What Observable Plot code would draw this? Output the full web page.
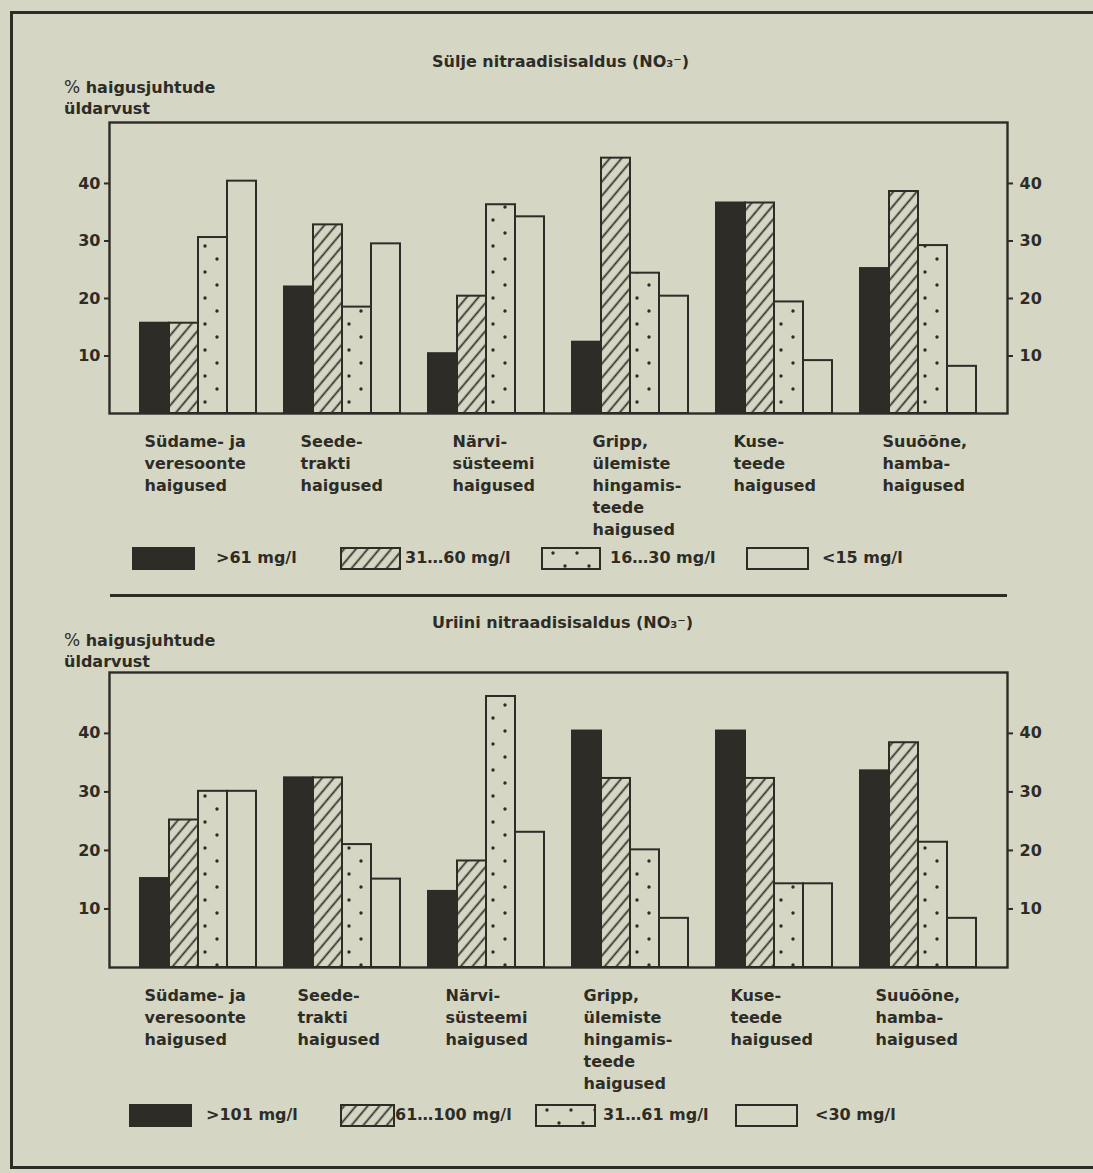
<!DOCTYPE html>
<html>
<head>
<meta charset="utf-8">
<script src="https://cdn.jsdelivr.net/npm/d3@7"></script>
<script src="https://cdn.jsdelivr.net/npm/@observablehq/plot@0.6"></script>
<style>
  body { margin: 0; background: #d5d7c4; }
  #page { position: relative; width: 1093px; height: 1173px; overflow: hidden; background: #d5d7c4;
          font-family: "DejaVu Sans", sans-serif; font-weight: bold; color: #2e2c27; }
  .abs { position: absolute; white-space: nowrap; }
  .title { font-size: 16px; }
  .ylab { font-size: 16px; line-height: 21px; }
  .pct { font-weight: normal; font-size: 17px; }
  .rule { position: absolute; background: #2e2c27; }
  .leg { font-size: 16px; }
  .sw { position: absolute; }
</style>
</head>
<body>
<svg width="0" height="0" style="position:absolute">
  <defs>
    <pattern id="hatch" patternUnits="userSpaceOnUse" width="9" height="9" patternTransform="rotate(40)">
      <rect width="9" height="9" fill="#d5d7c4"></rect>
      <line x1="4.5" y1="-1" x2="4.5" y2="10" stroke="#2e2c27" stroke-width="1.7"></line>
    </pattern>
    <pattern id="dots" patternUnits="userSpaceOnUse" x="58" y="0" width="24" height="26">
      <rect width="24" height="26" fill="#d5d7c4"></rect>
      <circle cx="7" cy="6" r="1.7" fill="#2e2c27"></circle>
      <circle cx="19" cy="19" r="1.7" fill="#2e2c27"></circle>
    </pattern>
  </defs>
</svg>
<div id="page">
  <div class="rule" style="left:10px;top:11px;width:1083px;height:3px"></div>
  <div class="rule" style="left:10px;top:11px;width:3px;height:1158px"></div>
  <div class="rule" style="left:10px;top:1166px;width:1083px;height:3px"></div>
  <div class="rule" style="left:110px;top:594px;width:897px;height:3px"></div>

  <div class="abs title" style="left:432px;top:52px">Sülje nitraadisisaldus (NO₃⁻)</div>
  <div class="abs ylab" style="left:64px;top:77px"><span class="pct">%</span> haigusjuhtude<br>üldarvust</div>

  <div class="abs title" style="left:432px;top:613px">Uriini nitraadisisaldus (NO₃⁻)</div>
  <div class="abs ylab" style="left:64px;top:630px"><span class="pct">%</span> haigusjuhtude<br>üldarvust</div>

  <div id="chart1" class="abs" style="left:0;top:110px"></div>
  <div id="chart2" class="abs" style="left:0;top:660px"></div>
  <div id="legend1"></div>
  <div id="legend2"></div>
</div>
<script>
// ---- data ----
const categories = [
  "Südame- ja\nveresoonte\nhaigused",
  "Seede-\ntrakti\nhaigused",
  "Närvi-\nsüsteemi\nhaigused",
  "Gripp,\nülemiste\nhingamis-\nteede\nhaigused",
  "Kuse-\nteede\nhaigused",
  "Suuõõne,\nhamba-\nhaigused"
];
const seriesKeys = ["k1", "k2", "k3", "k4"];

// Sülje nitraadisisaldus (saliva)
const saliva1 = [15.7, 22.0, 10.4, 12.4, 36.6, 25.2];
const saliva2 = [15.7, 32.8, 20.4, 44.4, 36.6, 38.6];
const saliva3 = [30.6, 18.5, 36.3, 24.4, 19.4, 29.2];
const saliva4 = [40.4, 29.5, 34.2, 20.4, 9.2, 8.2];
const salivaLegend = [">61 mg/l", "31…60 mg/l", "16…30 mg/l", "<15 mg/l"];

// Uriini nitraadisisaldus (urine)
const urine1 = [15.2, 32.4, 13.0, 40.4, 40.4, 33.6];
const urine2 = [25.2, 32.4, 18.2, 32.3, 32.3, 38.4];
const urine3 = [30.1, 21.0, 46.3, 20.1, 14.3, 21.4];
const urine4 = [30.1, 15.1, 23.1, 8.4, 14.3, 8.4];
const urineLegend = [">101 mg/l", "61…100 mg/l", "31…61 mg/l", "<30 mg/l"];

const yTicks = [10, 20, 30, 40];

// ---- style / layout ----
const ink = "#2e2c27";
const paper = "#d5d7c4";
const fills = [ink, "url(#hatch)", "url(#dots)", paper];
const labelDx1 = [5, 17, 25, 21, 18, 23];
const labelDx2 = [5, 14, 18, 12, 15, 16];

function makePanel(series, yMax, innerH, labelDx) {
  const rows = [];
  categories.forEach((c, i) => seriesKeys.forEach((s, j) => rows.push({cat: c, key: s, value: series[j][i]})));
  return Plot.plot({
    width: 1093,
    height: 12 + innerH + 130,
    marginLeft: 138,
    marginRight: 117,
    marginTop: 12,
    marginBottom: 130,
    style: {fontFamily: "'DejaVu Sans', sans-serif", fontSize: "16px", fontWeight: "bold", color: ink, background: "transparent", overflow: "visible"},
    fx: {domain: categories, paddingInner: 0.19, paddingOuter: 0, axis: null, label: null},
    x: {domain: seriesKeys, padding: 0, axis: null},
    y: {domain: [0, yMax], axis: null},
    color: {type: "ordinal", domain: seriesKeys, range: fills},
    marks: [
      Plot.barY(rows, {fx: "cat", x: "key", y: "value", fill: "key", stroke: ink, strokeWidth: 2}),
      Plot.frame({facet: "super", stroke: ink, strokeWidth: 2.4, insetLeft: -30, insetRight: -31}),
      Plot.axisY({ticks: yTicks, anchor: "left", dx: -30, tickSize: 5, tickPadding: 4, strokeWidth: 2, label: null, fontSize: 16}),
      Plot.axisY({ticks: yTicks, anchor: "right", dx: 31, tickSize: 5, tickPadding: 7, strokeWidth: 2, label: null, fontSize: 16}),
      ...categories.map((c, i) => Plot.text([c], {
        fx: d => d, text: d => d, frameAnchor: "bottom-left", textAnchor: "start", lineAnchor: "top",
        dx: labelDx[i], dy: 18, lineHeight: 1.375, fontSize: 16, fontWeight: "bold", fill: ink
      }))
    ]
  });
}

const p1 = makePanel([saliva1, saliva2, saliva3, saliva4], 50.6, 291, labelDx1);
const p2 = makePanel([urine1, urine2, urine3, urine4], 50.4, 295, labelDx2);
document.getElementById("chart1").appendChild(p1);
document.getElementById("chart2").appendChild(p2);

// align dot pattern with the dotted bars
try {
  const xs = p1.scale("x");
  document.getElementById("dots").setAttribute("x", xs.apply("k3"));
} catch (e) {}

function makeLegend(id, labels, top, swX, swW, txX) {
  const host = document.getElementById(id);
  labels.forEach((lab, i) => {
    const sw = document.createElementNS("http://www.w3.org/2000/svg", "svg");
    sw.setAttribute("class", "sw");
    sw.setAttribute("width", swW[i]);
    sw.setAttribute("height", 23);
    sw.style.left = swX[i] + "px";
    sw.style.top = top + "px";
    const r = document.createElementNS("http://www.w3.org/2000/svg", "rect");
    r.setAttribute("x", 1); r.setAttribute("y", 1);
    r.setAttribute("width", swW[i] - 2); r.setAttribute("height", 21);
    r.setAttribute("fill", fills[i]); r.setAttribute("stroke", ink); r.setAttribute("stroke-width", 2);
    sw.appendChild(r);
    host.appendChild(sw);
    const t = document.createElement("div");
    t.className = "abs leg";
    t.style.left = txX[i] + "px";
    t.style.top = (top + 1) + "px";
    t.textContent = lab;
    host.appendChild(t);
  });
}
makeLegend("legend1", salivaLegend, 547, [132, 340, 541, 746], [63, 61, 60, 63], [216, 405, 610, 822]);
makeLegend("legend2", urineLegend, 1104, [129, 340, 535, 735], [63, 55, 61, 63], [206, 395, 603, 815]);
</script>
</body>
</html>
